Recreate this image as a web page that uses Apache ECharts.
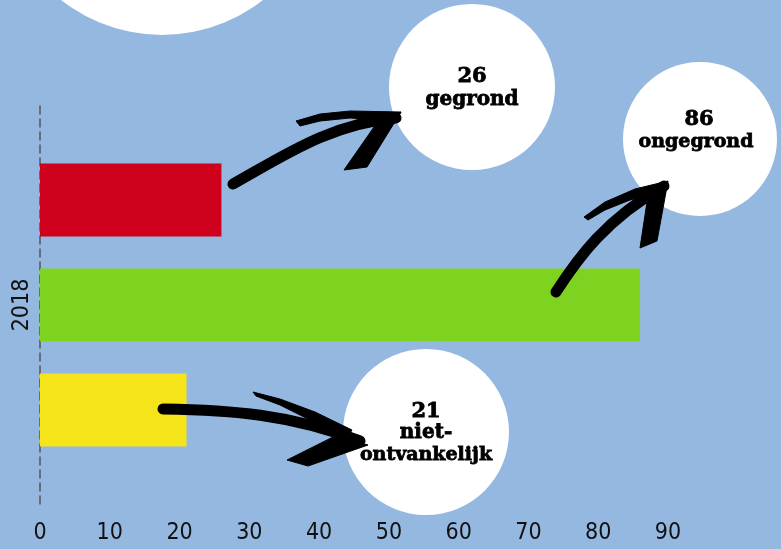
<!DOCTYPE html>
<html><head><meta charset="utf-8">
<script src="https://cdn.jsdelivr.net/npm/echarts@6/dist/echarts.min.js"></script>
<style>html,body{margin:0;padding:0;background:#95b8e0}#c{width:781px;height:549px}</style>
</head><body><div id="c"></div>
<script>
const categories = ['2018'];
const gegrond = [26];
const ongegrond = [86];
const nietOntvankelijk = [21];
const xTicks = [0, 10, 20, 30, 40, 50, 60, 70, 80, 90];

const chart = echarts.init(document.getElementById('c'));
const slab = 'DejaVu Serif';
const axisFont = '"Liberation Sans Narrow", "DejaVu Sans Condensed", "Liberation Sans", sans-serif';
function txt(x, y, s, size) {
  return { type: 'text', x: x, y: y, z: 110,
    style: { text: s, fill: '#000', font: '900 ' + size + 'px "' + slab + '"', textAlign: 'center', textVerticalAlign: 'middle', stroke: '#000', lineWidth: 0.8 } };
}
function circ(cx, cy, r) { return { type: 'circle', z: 100, shape: { cx: cx, cy: cy, r: r }, style: { fill: '#fff' } }; }
function bez(p, w) {
  return { type: 'bezierCurve', z: 105,
    shape: { x1: p[0], y1: p[1], cpx1: p[2], cpy1: p[3], cpx2: p[4], cpy2: p[5], x2: p[6], y2: p[7] },
    style: { fill: null, stroke: '#000', lineWidth: w, lineCap: 'round' } };
}
function poly(pts) { return { type: 'polygon', z: 105, shape: { points: pts }, style: { fill: '#000', stroke: '#000', lineWidth: 1, lineJoin: 'round' } }; }

chart.setOption({
  backgroundColor: '#95b8e0',
  animation: false,
  grid: { left: 40, right: 113, top: 106, bottom: 45 },
  xAxis: {
    type: 'value', min: xTicks[0], max: xTicks[xTicks.length - 1], interval: 10,
    splitLine: { show: false }, axisLine: { show: false }, axisTick: { show: false },
    axisLabel: { fontFamily: axisFont, fontSize: 23, color: '#111', margin: 18 }
  },
  yAxis: {
    type: 'category', data: categories,
    axisLine: { show: true, lineStyle: { color: '#555', width: 1.5, type: [8, 5] } },
    axisTick: { show: false },
    axisLabel: { rotate: 90, fontFamily: axisFont, fontSize: 23, color: '#111', margin: 6 }
  },
  series: [
    { name: 'gegrond', type: 'bar', data: gegrond, barWidth: 73, barGap: '44%', itemStyle: { color: '#ce001b' } },
    { name: 'ongegrond', type: 'bar', data: ongegrond, barWidth: 73, barGap: '44%', itemStyle: { color: '#7ed321' } },
    { name: 'niet-ontvankelijk', type: 'bar', data: nietOntvankelijk, barWidth: 73, barGap: '44%', itemStyle: { color: '#f5e41a' } }
  ],
  graphic: [
    circ(162, -128, 163),
    circ(472, 87, 83),
    circ(700, 139, 77),
    circ(426, 432, 83),
    txt(472, 77, String(gegrond[0]), 21),
    txt(472, 100, 'gegrond', 20),
    txt(699, 120, String(ongegrond[0]), 21),
    txt(696, 142, 'ongegrond', 19),
    txt(426, 412, String(nietOntvankelijk[0]), 21),
    txt(426, 433, 'niet-', 20),
    txt(426, 455, 'ontvankelijk', 19),
    // arrow 1
    bez([233, 184, 285, 155, 330, 124, 396, 118], 11),
    poly([[296, 121], [320, 114], [350, 111], [401, 112], [396, 121], [350, 118], [320, 121], [300, 126]]),
    poly([[401, 112], [367, 167], [344, 170], [374, 127]]),
    // arrow 2
    bez([556, 292, 578, 258, 605, 220, 664, 186], 11),
    poly([[584, 217], [605, 202], [635, 189], [668, 181], [660, 192], [630, 200], [605, 210], [588, 220]]),
    poly([[668, 181], [657, 241], [640, 248], [647, 202]]),
    // arrow 3
    bez([163, 409, 230, 410, 290, 414, 360, 441], 11),
    poly([[253, 392], [280, 399], [315, 412], [352, 430], [346, 440], [310, 420], [280, 405], [256, 396]]),
    poly([[368, 445], [308, 466], [287, 460], [335, 436]])
  ]
});
</script></body></html>
